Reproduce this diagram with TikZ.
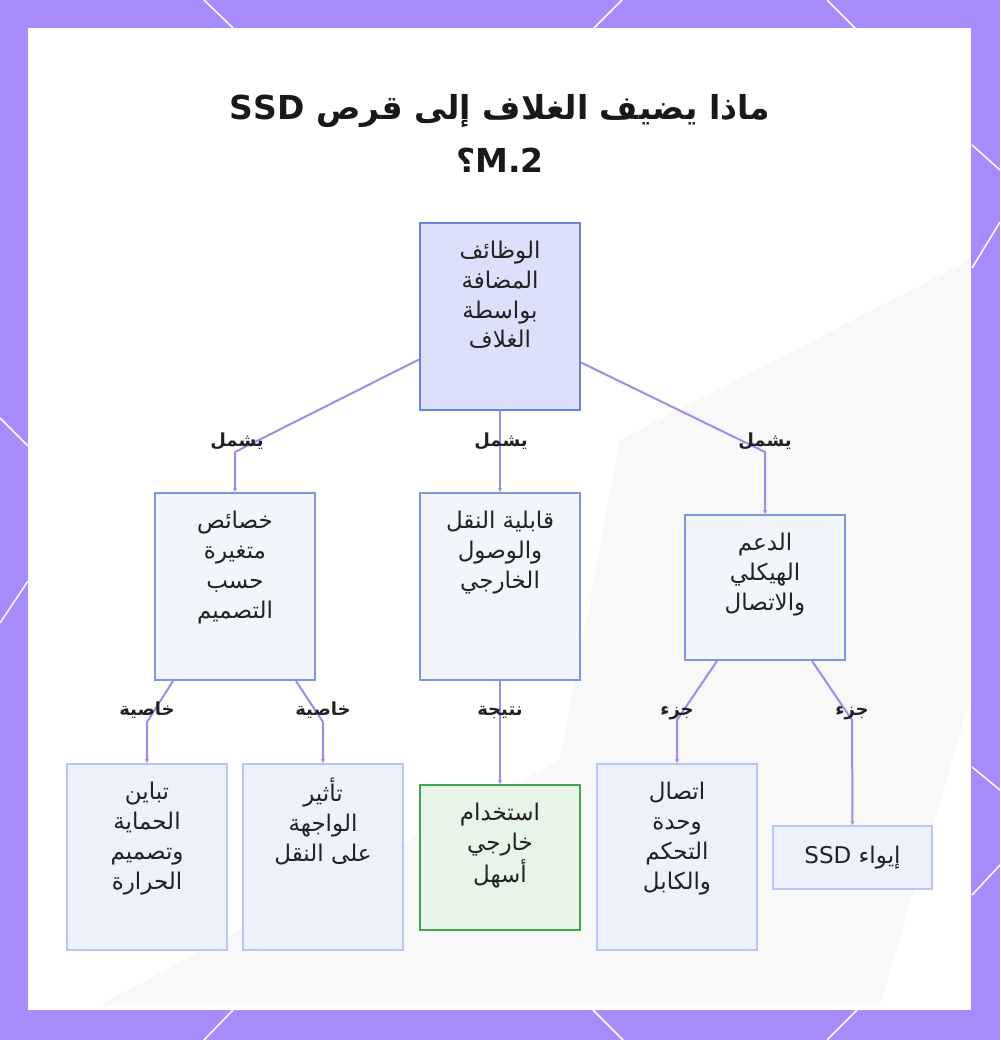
\documentclass[tikz,border=0pt]{standalone}
\usepackage{fontspec}
\usepackage{xcolor}
\usetikzlibrary{arrows.meta,positioning}
\TeXXeTstate=1
\newfontfamily\arabicfont[Script=Arabic]{DejaVu Sans}
\newcommand{\rl}[1]{\strut\beginR #1\endR}
\newcommand{\cell}[2]{\parbox[c][#1][t]{156pt}{\centering\vspace*{14pt}#2}}
\definecolor{bgpurple}{HTML}{A78BFA}
\definecolor{linkcol}{HTML}{A18AE8}
\definecolor{txtcol}{HTML}{222222}
\definecolor{fnfill}{HTML}{DDE0FA}
\definecolor{fndraw}{HTML}{6F80D8}
\definecolor{midfill}{HTML}{F3F5FD}
\definecolor{middraw}{HTML}{7E95E3}
\definecolor{leaffill}{HTML}{EEF1FC}
\definecolor{leafdraw}{HTML}{BAC4F5}
\definecolor{resfill}{HTML}{E7F4E8}
\definecolor{resdraw}{HTML}{43A34F}

\begin{document}
\begin{tikzpicture}[
    x=1pt, y=-1pt,
    box/.style={line width=2pt, inner sep=0pt, minimum width=160pt, text=txtcol,
        font=\arabicfont\fontsize{23}{30}\selectfont},
    fnbox/.style={box, draw=fndraw, fill=fnfill},
    midbox/.style={box, draw=middraw, fill=midfill},
    leafbox/.style={box, draw=leafdraw, fill=leaffill},
    resbox/.style={box, draw=resdraw, fill=resfill},
    conn/.style={draw=linkcol, line width=2pt, -{Stealth[length=4pt,width=4pt]}},
    lbl/.style={text=txtcol, font=\arabicfont\bfseries\fontsize{18}{20}\selectfont, inner sep=1pt},
    title/.style={text=black!90, align=center, inner sep=0pt,
        font=\arabicfont\bfseries\fontsize{33}{53}\selectfont}
]
    \useasboundingbox (0,0) rectangle (1000,1040);
    % frame
    \fill[bgpurple] (0,0) rectangle (1000,1040);
    \fill[white] (28,28) rectangle (971,1010);
    \draw[white, line width=1.5pt] (204,0) -- (233,28) (622,0) -- (594,28) (827,0) -- (855,28)
        (233,1010) -- (204,1040) (593,1010) -- (623,1040) (857,1010) -- (827,1040)
        (0,418) -- (28,446) (28,581) -- (0,623)
        (972,145) -- (1000,170) (1000,222) -- (972,268)
        (972,767) -- (1000,790) (1000,865) -- (972,895);
    % faded backdrop
    \fill[black!5, opacity=0.5] (100,1005) -- (560,760) -- (620,440) -- (970,260)
        -- (970,700) -- (880,1005) -- cycle;

    % title
    \node[title] (ttl) at (500,135)
        {\rl{ماذا يضيف الغلاف إلى قرص \beginL SSD\endL}\\\strut\beginR\beginL M.2\endL؟\endR};

    % boxes
    \node[fnbox] (fn) at (500,316.5) {\cell{187pt}{\rl{الوظائف}\\\rl{المضافة}\\\rl{بواسطة}\\\rl{الغلاف}}};

    \node[midbox] (cl) at (235,586.5) {\cell{187pt}{\rl{خصائص}\\\rl{متغيرة}\\\rl{حسب}\\\rl{التصميم}}};
    \node[midbox] (cc) at (500,586.5) {\cell{187pt}{\rl{قابلية النقل}\\\rl{والوصول}\\\rl{الخارجي}}};
    \node[midbox] (cr) at (765,587.5) {\cell{145pt}{\rl{الدعم}\\\rl{الهيكلي}\\\rl{والاتصال}}};

    \node[leafbox] (b1) at (147,857) {\cell{186pt}{\rl{تباين}\\\rl{الحماية}\\\rl{وتصميم}\\\rl{الحرارة}}};
    \node[leafbox] (b2) at (323,857) {\cell{186pt}{\rl{تأثير}\\\rl{الواجهة}\\\rl{على النقل}}};
    \node[resbox] (b3) at (500,857.5) {\cell{145pt}{\rl{استخدام}\\\rl{خارجي}\\\rl{أسهل}}};
    \node[leafbox] (b4) at (677,857) {\cell{186pt}{\rl{اتصال}\\\rl{وحدة}\\\rl{التحكم}\\\rl{والكابل}}};
    \node[leafbox, minimum height=63pt, minimum width=159pt] (b5) at (852.5,857.5)
        {\rl{إيواء \beginL SSD\endL}};

    % bends
    \coordinate (k1) at (235,452);
    \coordinate (k3) at (765,452);
    \coordinate (k4) at (147,722);
    \coordinate (k5) at (323,722);
    \coordinate (k7) at (677,720);
    \coordinate (k8) at (852,720);

    % links
    \draw[conn] ([yshift=-43pt]fn.west) -- (k1) -- (cl.north);
    \draw[conn] (fn.south) -- (cc.north);
    \draw[conn] ([yshift=-46pt]fn.east) -- (k3) -- (cr.north);
    \draw[conn] ([xshift=-62pt]cl.south) -- (k4) -- (b1.north);
    \draw[conn] ([xshift=61pt]cl.south) -- (k5) -- (b2.north);
    \draw[conn] (cc.south) -- (b3.north);
    \draw[conn] ([xshift=-48pt]cr.south) -- (k7) -- (b4.north);
    \draw[conn] ([xshift=47pt]cr.south) -- (k8) -- (b5.north);

    % link labels
    \node[lbl] (l1) at (237,442) {\rl{يشمل}};
    \node[lbl] (l2) at (501,442) {\rl{يشمل}};
    \node[lbl] (l3) at (765,442) {\rl{يشمل}};
    \node[lbl] (l4) at (147,711) {\rl{خاصية}};
    \node[lbl] (l5) at (323,711) {\rl{خاصية}};
    \node[lbl] (l6) at (500,711) {\rl{نتيجة}};
    \node[lbl] (l7) at (677,711) {\rl{جزء}};
    \node[lbl] (l8) at (852,711) {\rl{جزء}};
\end{tikzpicture}
\end{document}
